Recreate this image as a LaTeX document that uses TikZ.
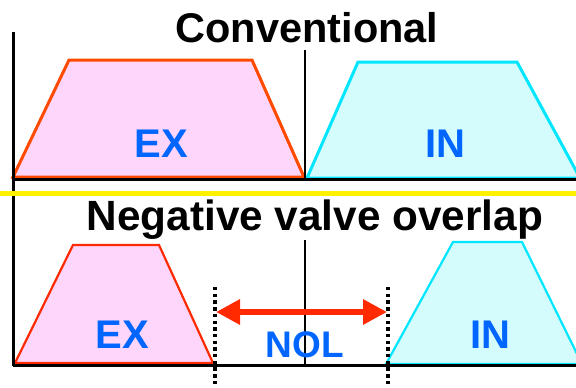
\documentclass[tikz,border=0pt]{standalone}
\usepackage{fontspec}
\setmainfont{Liberation Sans}
\usetikzlibrary{arrows.meta}

\definecolor{exline}{HTML}{FF4A00}
\definecolor{exlinetwo}{HTML}{FF2A00}
\definecolor{exfill}{HTML}{FFD6FB}
\definecolor{inline}{HTML}{00E6FF}
\definecolor{infill}{HTML}{D4FCFD}
\definecolor{labelblue}{HTML}{0066FF}
\definecolor{divider}{HTML}{FFF000}
\definecolor{nolred}{HTML}{FF2A00}

\tikzset{
  axis/.style={black, line width=3pt},
  midline/.style={black, line width=1.6pt},
  title/.style={font=\fontsize{41.5}{48}\selectfont\bfseries, anchor=base, inner sep=0pt},
  valvelabel/.style={font=\fontsize{40}{46}\selectfont\bfseries, text=labelblue, anchor=base, inner sep=0pt},
  exvalve/.style={draw=exline, fill=exfill, line width=3pt, line join=miter},
  invalve/.style={draw=inline, fill=infill, line width=3pt, line join=miter},
  dotline/.style={black, line width=3.6pt, dash pattern=on 3.4pt off 3.3pt},
  nolarrow/.style={nolred, line width=6pt, {Triangle[length=24pt,width=24pt]}-{Triangle[length=24pt,width=24pt]}, shorten <=0pt, shorten >=0pt},
}

\begin{document}
\begin{tikzpicture}[x=1pt, y=-1pt]
  \useasboundingbox (0,0) rectangle (576,388);
  \begin{scope}
    \clip (0,0) rectangle (576,388);

    % ---------- conventional timing ----------
    \path[exvalve] (13,177) -- (69,60) -- (252,60) -- (304,177) -- cycle;
    \path[invalve] (307,178) -- (358,62) -- (517,62) -- (580,178) -- cycle;
    \draw[axis] (13,32) -- (13,194);
    \draw[axis] (13,179) -- (576,179);
    \draw[midline] (305,50) -- (305,179);
    \node[title] (conv) at (307,42) {Conventional};
    \node[valvelabel] (exa) at (161,157) {EX};
    \node[valvelabel] (ina) at (445,157) {IN};

    % divider
    \draw[divider, line width=5pt] (0,193) -- (576,193);

    % ---------- negative valve overlap ----------
    \path[exvalve, draw=exlinetwo, line width=2.2pt] (15,363) -- (73,245) -- (159,245) -- (213,363) -- cycle;
    \path[invalve, line width=2.2pt] (386,364) -- (453,242) -- (522,242) -- (582,364) -- cycle;
    \draw[axis] (13,196) -- (13,366);
    \draw[axis] (13,365) -- (576,365);
    \draw[midline] (305,240) -- (305,366);
    \node[title, font=\fontsize{42.3}{48}\selectfont\bfseries] (nvo) at (315,230) {Negative valve overlap};
    \node[valvelabel] (exb) at (122,348) {EX};
    \node[valvelabel] (inb) at (490,348) {IN};

    % exhaust closing / intake opening markers
    \coordinate (evc top) at (215,287);
    \coordinate (evc bot) at (215,390);
    \coordinate (ivo top) at (388,287);
    \coordinate (ivo bot) at (388,390);
    \draw[dotline] (evc top) -- (evc bot);
    \draw[dotline] (ivo top) -- (ivo bot);

    \coordinate (nolL) at (216,312);
    \coordinate (nolR) at (387,312);
    \draw[nolarrow] (nolL) -- (nolR);
    \node[valvelabel, font=\fontsize{37}{42}\selectfont\bfseries] (nol) at (305,357) {NOL};
  \end{scope}
\end{tikzpicture}
\end{document}
